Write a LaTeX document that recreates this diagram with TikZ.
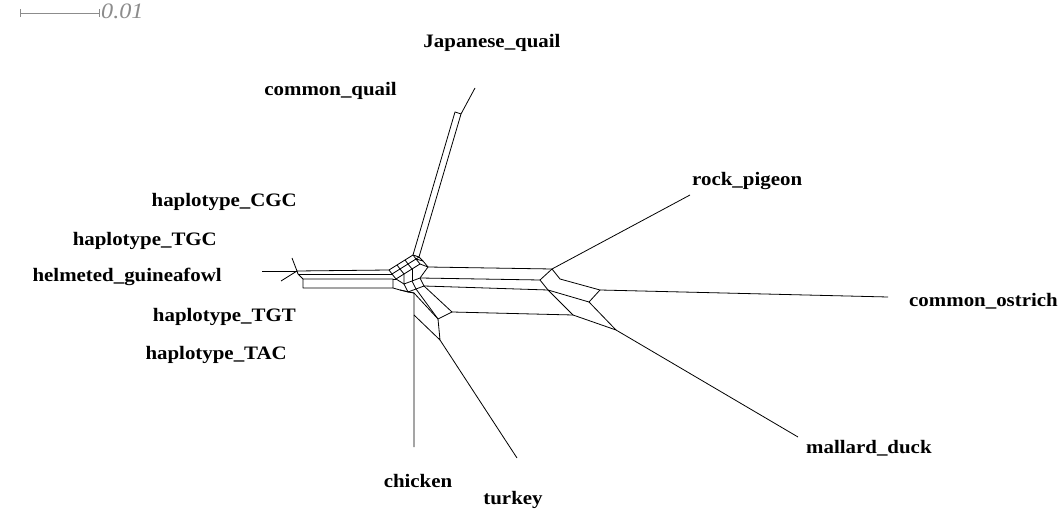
\documentclass[tikz,border=0pt]{standalone}
\usepackage{fontspec}
\setmainfont[FakeStretch=1.1]{Liberation Serif}
\begin{document}
\begin{tikzpicture}[x=1pt,y=-1pt,
  edge/.style={line width=0.8pt,black,line join=round},
  taxon/.style={font=\fontsize{19}{19}\selectfont\bfseries,inner sep=0pt},
  scalebar/.style={line width=0.8pt,black!45}]
\useasboundingbox (0,0) rectangle (1063,510);
% scale bar
\coordinate (s1) at (20,13); \coordinate (s2) at (99,13);
\draw[scalebar] (s1) -- (s2);
\draw[scalebar] ([yshift=-4pt]s1) -- ([yshift=4pt]s1);
\draw[scalebar] ([yshift=-4pt]s2) -- ([yshift=4pt]s2);
\node[anchor=west,inner sep=2pt,text=black!45,font=\fontsize{22}{22}\selectfont\itshape] (sl) at ([yshift=1.5pt]s2) {0.01};
% labels
\node[taxon] (jq) at (492,43) {Japanese\_quail};
\node[taxon,anchor=east] (cq) at (397,91) {common\_quail};
\node[taxon,anchor=west] (rp) at (692,181) {rock\_pigeon};
\node[taxon,anchor=east] (cgc) at (297,202) {haplotype\_CGC};
\node[taxon,anchor=east] (tgc) at (217,241) {haplotype\_TGC};
\node[taxon,anchor=east] (hg) at (222,277) {helmeted\_guineafowl};
\node[taxon,anchor=east] (tgt) at (296,317) {haplotype\_TGT};
\node[taxon,anchor=east] (tac) at (287,355) {haplotype\_TAC};
\node[taxon,anchor=west] (co) at (909,301) {common\_ostrich};
\node[taxon,anchor=west] (md) at (806,448) {mallard\_duck};
\node[taxon] (ch) at (418,481) {chicken};
\node[taxon] (tu) at (513,500) {turkey};
% ---- coordinates
% star (guineafowl/haplotypes)
\coordinate (X) at (297,271);
\coordinate (Xa) at (262,271);
\coordinate (Xb) at (292,258);
\coordinate (Xc) at (281,281);
\coordinate (Xd) at (298,274);
\coordinate (Xe) at (303,279);
\coordinate (Xf) at (303,288);
% hub grid
\coordinate (T0) at (389,270); \coordinate (T1) at (397,265); \coordinate (T2) at (405,260); \coordinate (T3) at (413,255);
\coordinate (S0) at (392,274); \coordinate (S1) at (400,269); \coordinate (S2) at (408,264); \coordinate (S3) at (416,259);
\coordinate (U0) at (396,279); \coordinate (U1) at (404,274); \coordinate (U2) at (412,269); \coordinate (U3) at (420,264);
\coordinate (Q2) at (419,257); \coordinate (Q2b) at (423,261); \coordinate (A0) at (428,267);
\coordinate (B0) at (420,278); \coordinate (B1) at (412,281); \coordinate (B2) at (404,284);
\coordinate (C0) at (424,286); \coordinate (C1) at (416,289); \coordinate (C2) at (408,292);
\coordinate (Y0) at (393,279); \coordinate (Y1) at (393,288); \coordinate (Y2) at (400,290);
% quail tube
\coordinate (Qt1) at (455,112); \coordinate (Qt2) at (461,114); \coordinate (JQ) at (475,88);
% right tubes
\coordinate (A1) at (552,269); \coordinate (B3) at (540,280); \coordinate (C3) at (548,290);
\coordinate (R1) at (560,279); \coordinate (R2) at (600,290); \coordinate (R3) at (589,302);
\coordinate (RP) at (690,195); \coordinate (CO) at (888,297);
\coordinate (D0) at (452,312); \coordinate (D1) at (573,315); \coordinate (D2) at (616,330);
\coordinate (MD) at (798,437);
% down tube
\coordinate (E0) at (438,319); \coordinate (E1) at (440,340);
\coordinate (F0) at (414,293); \coordinate (F1) at (414,315);
\coordinate (CH) at (414,447); \coordinate (TU) at (517,458);
% ---- edges
\draw[edge] (X) -- (Xa); \draw[edge] (X) -- (Xb); \draw[edge] (X) -- (Xc);
\draw[edge] (X) -- (T0); \draw[edge] (Xd) -- (S0); \draw[edge] (X) -- (Xd);
\draw[edge] (Xd) -- (Xe) -- (Y0) -- (Y1) -- (Xf) -- (Xe);
% hub
\draw[edge] (T0) -- (T1) -- (T2) -- (T3) -- (Q2) -- (Q2b) -- (A0);
\draw[edge] (S0) -- (S1) -- (S2) -- (S3) -- (Q2b);
\draw[edge] (U0) -- (U1) -- (U2) -- (U3) -- (A0);
\draw[edge] (T0) -- (S0) -- (U0); \draw[edge] (T1) -- (S1) -- (U1);
\draw[edge] (T2) -- (S2) -- (U2); \draw[edge] (T3) -- (S3) -- (U3);
\draw[edge] (Q2) -- (S3);
\draw[edge] (A0) -- (B0) -- (B1) -- (B2) -- (U1);
\draw[edge] (U2) -- (B1); \draw[edge] (U0) -- (Y0);
\draw[edge] (B0) -- (C0) -- (C1) -- (C2) -- (B2);
\draw[edge] (B1) -- (C1);
\draw[edge] (Y1) -- (Y2) -- (C2); \draw[edge] (U0) -- (B2);
% quail
\draw[edge] (T3) -- (Qt1) -- (Qt2) -- (Q2);
\draw[edge] (Qt2) -- (JQ);
% right
\draw[edge] (A0) -- (A1) -- (RP);
\draw[edge] (B0) -- (B3); \draw[edge] (C0) -- (C3);
\draw[edge] (A1) -- (R1) -- (R2) -- (R3) -- (C3) -- (B3) -- (A1);
\draw[edge] (R2) -- (CO);
\draw[edge] (C3) -- (D1) -- (D2) -- (R3);
\draw[edge] (D0) -- (D1); \draw[edge] (D2) -- (MD);
% down
\draw[edge] (C0) -- (D0) -- (E0) -- (F0) -- (C2);
\draw[edge] (C1) -- (E0);
\draw[edge] (E0) -- (E1) -- (F1);
\draw[edge] (E1) -- (TU);
\draw[edge] (Y2) -- (F0) -- (CH);
\end{tikzpicture}
\end{document}
